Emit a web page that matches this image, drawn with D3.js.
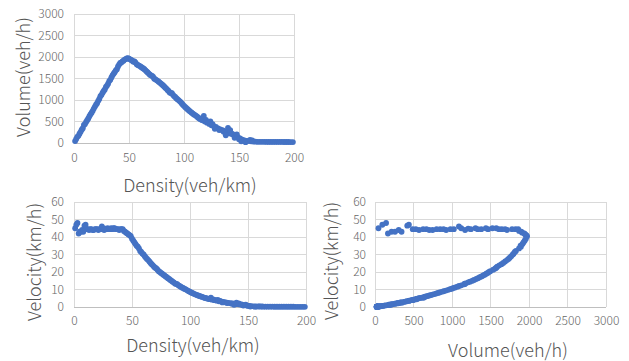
<!DOCTYPE html>
<html>
<head>
<meta charset="utf-8">
<script src="https://cdn.jsdelivr.net/npm/d3@7"></script>
<style>
  body { margin: 0; background: #fff; }
  svg { display: block; }
  .tick text { fill: #666; font-family: "Noto Sans CJK SC", "Noto Sans", sans-serif; font-size: 12px; font-weight: 300; }
  .title { fill: #555; font-family: "Noto Sans CJK SC", "Noto Sans", sans-serif; font-size: 18px; font-weight: 300; }
</style>
</head>
<body>
<div id="chart"></div>
<script>
// main samples (density in veh/km)
const density = [1,3,5,7,9,11,13,15,17,19,21,23,25,27,29,31,33,35,37,39,41,43,45,47,49,
  51,53,55,57,59,61,63,65,67,69,71,73,75,77,79,81,83,85,87,89,91,93,95,97,99,
  101,103,105,107,109,111,113,115,117,119,121,123,125,127,129,131,133,135,137,139,
  141,143,145,147,149,151,153,155,157,159,161,163,165,167,169,171,173,175,177,179,
  181,183,185,187,189,191,193,195,197,199];
const volume = [45,144,215,308,419,490,572,668,748,846,924,1024,1120,1210,1305,1380,1469,1575,1647,1716,1825,1871,1913,1951,1975,
  1945,1915,1895,1830,1800,1769,1733,1690,1642,1587,1562,1497,1463,1425,1383,1337,1287,1233,1175,1157,1092,1042,998,951,891,
  838,793,746,706,665,633,588,552,527,500,472,443,413,394,374,341,319,297,274,250,
  226,215,189,162,134,106,77,62,47,48,40,35,30,28,28,27,27,26,26,25,
  25,25,24,24,24,23,23,23,22,22];
const velocity = [45,48,43,44,46.5,44.5,44,44.5,44,44.5,44,44.5,45,44.8,45,44.5,44.5,45,44.5,44,44.5,43.5,42.5,41.5,40.5,
  38,36,34.5,32,30.5,29,27.5,26,24.5,23,22,20.5,19.5,18.5,17.5,16.5,15.5,14.5,13.5,13,12,11.2,10.5,9.8,9,
  8.3,7.7,7.1,6.6,6.1,5.7,5.2,4.8,4.5,4.2,3.9,3.6,3.3,3.1,2.9,2.6,2.4,2.2,2,1.8,
  1.6,1.5,1.3,1.1,0.9,0.7,0.5,0.4,0.3,0.3,0.25,0.2,0.2,0.2,0.17,0.16,0.15,0.15,0.15,0.14,
  0.14,0.14,0.13,0.13,0.13,0.12,0.12,0.12,0.11,0.11];

// in-between samples (even densities)
const evenDensity = [12,14,16,18,20,22,28,30,32,34,36,38,40,48,58,60,62,64,66,68,70,72,74,76,78,80,
  82,84,86,88,90,92,94,96,98,100,102,104,106,108,110,112,114,116];
const evenVolume = [530,625,705,800,890,980,1245,1335,1440,1525,1610,1690,1780,1965,1815,1790,1750,1715,1665,1615,1575,1535,1480,1445,1405,1360,
  1315,1265,1210,1165,1120,1070,1020,975,920,865,815,770,725,685,650,610,570,540];
const evenVelocity = [44.5,44.5,44,44.5,44.5,44.5,44.5,44.5,45,45,44.5,44.5,44.5,41,31.5,30,28.2,26.8,25.2,23.8,22.5,21.3,20,19,18,17,
  16,15,14.1,13.2,12.4,11.6,10.9,10.2,9.4,8.7,8,7.4,6.8,6.3,5.9,5.4,5,4.7];

// scattered extra samples (noisy region and free-flow outliers)
const extraDensity  = [2,4,6,8,10,24,26,42,44,46,50,52,54,56,118,120,122,124,126,128,132,136,138,140,142,144,146,148,150,152,156,160,162];
const extraVolume   = [95,168,260,345,440,1090,1170,1860,1900,1940,1960,1930,1890,1870,630,540,480,500,440,330,300,260,180,350,300,210,120,200,90,40,20,70,60];
const extraVelocity = [47,42,43,43,47,46,44,44.5,43,42,39,37,35,33.5,5.3,4.4,3.9,4.0,3.5,2.6,2.3,1.9,1.3,2.5,2.1,1.5,0.8,1.3,0.6,0.3,0.2,0.4,0.4];

const pts = density.map((k, i) => ({k: k, q: volume[i], v: velocity[i]}))
  .concat(evenDensity.map((k, i) => ({k: k, q: evenVolume[i], v: evenVelocity[i]})))
  .concat(extraDensity.map((k, i) => ({k: k, q: extraVolume[i], v: extraVelocity[i]})));

const densityTicks = [0, 50, 100, 150, 200];
const volumeTicks = [0, 500, 1000, 1500, 2000, 2500, 3000];
const velocityTicks = [0, 10, 20, 30, 40, 50, 60];

const svg = d3.select("#chart").append("svg")
  .attr("width", 629)
  .attr("height", 361);

function panel(opts) {
  const x = d3.scaleLinear().domain(opts.xDomain).range(opts.xRange);
  const y = d3.scaleLinear().domain(opts.yDomain).range(opts.yRange);
  const g = svg.append("g");

  // gridlines
  g.append("g")
    .selectAll("line")
    .data(opts.yTicks)
    .enter()
    .append("line")
    .attr("x1", opts.xRange[0]).attr("x2", opts.xRange[1])
    .attr("y1", d => y(d)).attr("y2", d => y(d))
    .attr("stroke", d => d === 0 ? "#bfbfbf" : "#d9d9d9")
    .attr("stroke-width", 1)
    .attr("shape-rendering", "crispEdges");
  g.append("g")
    .selectAll("line")
    .data(opts.xTicks)
    .enter()
    .append("line")
    .attr("x1", d => x(d)).attr("x2", d => x(d))
    .attr("y1", opts.yRange[0]).attr("y2", opts.yRange[1])
    .attr("stroke", "#d9d9d9")
    .attr("stroke-width", 1)
    .attr("shape-rendering", "crispEdges");

  // axes (labels only)
  g.append("g")
    .attr("transform", "translate(0," + opts.yRange[0] + ")")
    .call(d3.axisBottom(x).tickValues(opts.xTicks).tickFormat(d3.format("d")).tickSize(0).tickPadding(opts.xPad))
    .call(a => a.select(".domain").remove());
  g.append("g")
    .attr("transform", "translate(" + opts.xRange[0] + ",0)")
    .call(d3.axisLeft(y).tickValues(opts.yTicks).tickFormat(d3.format("d")).tickSize(0).tickPadding(opts.yPad))
    .call(a => a.select(".domain").remove());

  // points
  g.append("g")
    .selectAll("circle")
    .data(pts)
    .enter()
    .append("circle")
    .attr("cx", d => x(d[opts.xKey]))
    .attr("cy", d => y(d[opts.yKey]))
    .attr("r", 2.9)
    .attr("fill", "#4472c4");

  // titles
  g.append("text")
    .attr("class", "title")
    .attr("x", opts.xTitle[1]).attr("y", opts.xTitle[2])
    .attr("text-anchor", "middle")
    .attr("dominant-baseline", "central")
    .text(opts.xTitle[0]);
  g.append("text")
    .attr("class", "title")
    .attr("transform", "translate(" + opts.yTitle[1] + "," + opts.yTitle[2] + ")rotate(-90)")
    .attr("text-anchor", "middle")
    .attr("dominant-baseline", "central")
    .text(opts.yTitle[0]);
}

panel({
  xKey: "k", yKey: "q",
  xDomain: [0, 200], yDomain: [0, 3000],
  xRange: [74, 294], yRange: [143, 14],
  xTicks: densityTicks, yTicks: volumeTicks,
  xPad: 10, yPad: 10,
  xTitle: ["Density(veh/km)", 190, 184],
  yTitle: ["Volume(veh/h)", 22, 77]
});

panel({
  xKey: "k", yKey: "v",
  xDomain: [0, 200], yDomain: [0, 60],
  xRange: [74, 306], yRange: [307, 202],
  xTicks: densityTicks, yTicks: velocityTicks,
  xPad: 9, yPad: 10,
  xTitle: ["Density(veh/km)", 193, 344],
  yTitle: ["Velocity(km/h)", 33, 262]
});

panel({
  xKey: "q", yKey: "v",
  xDomain: [0, 3000], yDomain: [0, 60],
  xRange: [375, 606], yRange: [307, 202],
  xTicks: volumeTicks, yTicks: velocityTicks,
  xPad: 9, yPad: 9,
  xTitle: ["Volume(veh/h)", 508, 349],
  yTitle: ["Velocity(km/h)", 330, 261]
});
</script>
</body>
</html>
